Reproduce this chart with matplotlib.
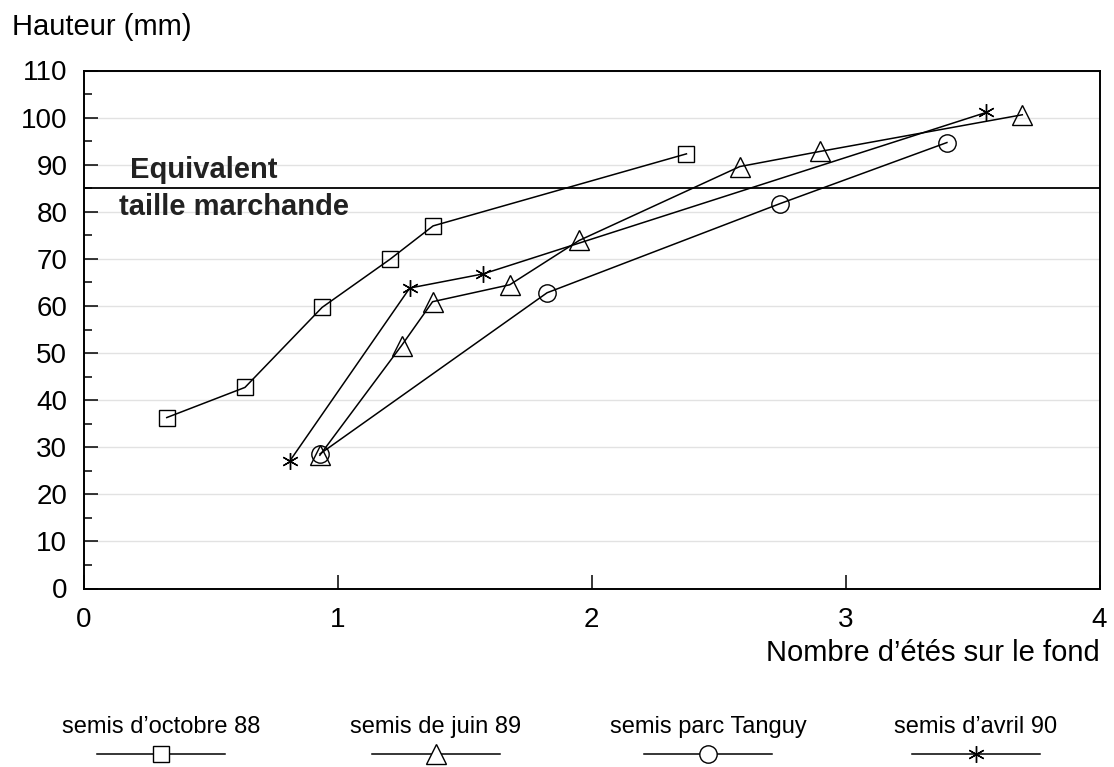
import matplotlib
matplotlib.use("Agg")
import matplotlib.pyplot as plt
from matplotlib.lines import Line2D
from matplotlib.ticker import MultipleLocator

plt.rcParams['font.family'] = ['Liberation Sans', 'DejaVu Sans']

# semis d'octobre 88
x_oct88 = [0.326, 0.634, 0.938, 1.205, 1.375, 2.373]
y_oct88 = [36.3, 42.7, 59.7, 69.9, 77.0, 92.3]

# semis de juin 89
x_juin89 = [0.929, 1.251, 1.373, 1.677, 1.950, 2.583, 2.898, 3.696]
y_juin89 = [28.3, 51.6, 60.9, 64.5, 73.9, 89.6, 92.8, 100.6]

# semis parc Tanguy
x_tanguy = [0.93, 1.824, 2.740, 3.399]
y_tanguy = [28.6, 62.8, 81.7, 94.7]

# semis d'avril 90
x_avril90 = [0.811, 1.283, 1.572, 3.554]
y_avril90 = [27.1, 63.8, 66.8, 101.1]

taille_marchande = 85

series = [
    ("semis d'octobre 88", x_oct88, y_oct88, 's', 12),
    ("semis de juin 89", x_juin89, y_juin89, '^', 14.5),
    ("semis parc Tanguy", x_tanguy, y_tanguy, 'o', 12.5),
    ("semis d'avril 90", x_avril90, y_avril90, (6, 2, 0), 12),
]

W, H = 1114, 767
fig = plt.figure(figsize=(W / 100, H / 100), dpi=100, facecolor='white')
ax = fig.add_axes([84 / W, 1 - 588.5 / H, (1099.5 - 84) / W, (588.5 - 70.5) / H])

for label, xs, ys, mk, ms in series:
    ax.plot(xs, ys, color='black', lw=1.1, marker=mk, markersize=ms,
            markerfacecolor='none', markeredgecolor='black', markeredgewidth=1.0,
            zorder=3)

# ligne de taille marchande
ax.axhline(taille_marchande, color='black', lw=1.3, zorder=2)
ax.text(0.182, 88.8, "Equivalent", fontsize=21, fontweight='bold', va='center', ha='left',
        color='#222222')
ax.text(0.138, 81.0, "taille marchande", fontsize=21, fontweight='bold', va='center', ha='left',
        color='#222222')

ax.set_xlim(0, 4)
ax.set_ylim(0, 110)
ax.xaxis.set_major_locator(MultipleLocator(1))
ax.yaxis.set_major_locator(MultipleLocator(10))
ax.yaxis.set_minor_locator(MultipleLocator(5))
ax.tick_params(axis='both', which='major', direction='in', length=10, width=1.1,
               labelsize=20)
ax.tick_params(axis='y', which='major', pad=12)
ax.tick_params(axis='x', which='major', pad=13)
ax.tick_params(axis='y', which='minor', direction='in', length=6, width=1.1)
ax.yaxis.grid(True, color='#e2e2e2', lw=1.0, zorder=0)
for sp in ax.spines.values():
    sp.set_linewidth(1.4)

fig.text(12 / W, 1 - 27 / H, "Hauteur (mm)", fontsize=21, va='center', ha='left')
fig.text(1100 / W, 1 - 653 / H, "Nombre d\u2019\u00e9t\u00e9s sur le fond", fontsize=21,
         va='center', ha='right')

# legende: texte au-dessus, trait + symbole en dessous
centres = [161, 436, 708, 976]
for (label, xs, ys, mk, ms), cx in zip(series, centres):
    fx = cx / W
    fig.text(fx, 1 - 727 / H, label.replace("'", "\u2019"), fontsize=17,
             ha='center', va='center')
    w = 64 / W
    ln = Line2D([fx - w, fx, fx + w], [1 - 754 / H] * 3, transform=fig.transFigure,
                color='black', lw=1.1, marker=mk, markersize=ms, markevery=[1],
                markerfacecolor='white', markeredgecolor='black', markeredgewidth=1.0)
    fig.add_artist(ln)

plt.savefig("out.png", dpi=100, facecolor='white')
